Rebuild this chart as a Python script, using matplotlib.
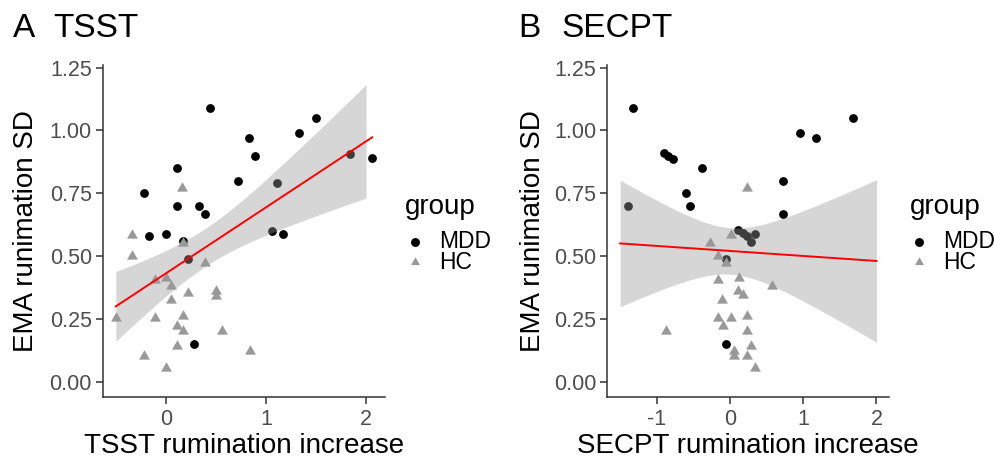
import numpy as np
import matplotlib
matplotlib.use("Agg")
import matplotlib.pyplot as plt
from matplotlib.lines import Line2D

plt.rcParams['font.family'] = ['Liberation Sans', 'DejaVu Sans']
plt.rcParams['axes.unicode_minus'] = False

# ---- data ----
# Panel A: TSST
tsst_mdd_x = [0.445, -0.222, 0.113, 0.113, -0.166, 0.0, 0.329, 0.392, 0.169, 0.219, 0.721,
              0.834, 0.887, 1.113, 1.057, 1.167, 1.333, 1.502, 1.841, 2.061, 0.282]
tsst_mdd_y = [1.090, 0.751, 0.850, 0.700, 0.580, 0.590, 0.700, 0.670, 0.561, 0.491, 0.801,
              0.970, 0.900, 0.790, 0.601, 0.590, 0.990, 1.050, 0.908, 0.891, 0.152]
tsst_hc_x = [0.166, -0.336, -0.336, 0.169, 0.389, -0.110, 0.0, 0.057, 0.057, 0.222, 0.499,
             0.499, -0.499, -0.110, 0.172, 0.113, 0.172, 0.561, 0.113, -0.219, 0.003, 0.837]
tsst_hc_y = [0.773, 0.583, 0.503, 0.554, 0.474, 0.406, 0.413, 0.384, 0.326, 0.356, 0.364,
             0.344, 0.255, 0.255, 0.265, 0.225, 0.204, 0.204, 0.145, 0.105, 0.055, 0.125]

# Panel B: SECPT
secpt_mdd_x = [-1.327, -1.387, -0.896, -0.840, -0.780, -0.382, -0.605, -0.550, -0.050, 0.113,
               0.173, 0.228, 0.287, 0.337, 0.727, 0.727, 0.951, 1.178, 1.678, -0.050]
secpt_mdd_y = [1.090, 0.700, 0.911, 0.898, 0.888, 0.850, 0.751, 0.700, 0.490, 0.605,
               0.592, 0.579, 0.558, 0.590, 0.800, 0.670, 0.990, 0.970, 1.050, 0.152]
secpt_hc_x = [0.232, -0.269, 0.009, -0.164, -0.050, -0.160, 0.119, 0.113, 0.173, 0.569, -0.105,
              -0.160, 0.009, 0.228, -0.100, 0.228, -0.877, 0.291, 0.059, 0.059, 0.228, 0.341]
secpt_hc_y = [0.773, 0.554, 0.583, 0.503, 0.473, 0.406, 0.413, 0.364, 0.346, 0.384, 0.326,
              0.255, 0.255, 0.265, 0.225, 0.204, 0.204, 0.145, 0.125, 0.105, 0.105, 0.055]

secpt_xlim = (-1.5, 2.0)      # scale limits used for panel B (fit drawn over full range)
tsst_band_max = 2.0           # ribbon in panel A stops at 2
y_ticks = [0, 0.25, 0.5, 0.75, 1.0, 1.25]
group_labels = ['MDD', 'HC']

mdd_color = 'black'
hc_color = '#999999'
axis_color = '#333333'
tick_label_color = '#4D4D4D'

W, H = 995, 459
fig = plt.figure(figsize=(W / 100, H / 100), dpi=100)


def px_rect(l, t, r, b):
    return [l / W, 1 - b / H, (r - l) / W, (b - t) / H]


def fx(x):
    return x / W


def fy(y):
    return 1 - y / H


tri = [(-0.866, -0.5), (0.866, -0.5), (0.0, 1.0)]


def ols_band(x, y, xs, t=2.02):
    n = len(x)
    b1, b0 = np.polyfit(x, y, 1)
    resid = y - (b0 + b1 * x)
    s = np.sqrt(np.sum(resid ** 2) / (n - 2))
    xm = x.mean()
    sxx = np.sum((x - xm) ** 2)
    fit = b0 + b1 * xs
    se = s * np.sqrt(1 / n + (xs - xm) ** 2 / sxx)
    return fit, fit - t * se, fit + t * se


def panel(rect, mdd_x, mdd_y, hc_x, hc_y, xticks, xlim, line_rng, band_rng):
    ax = fig.add_axes(rect)
    mx, my = np.array(mdd_x), np.array(mdd_y)
    hx, hy = np.array(hc_x), np.array(hc_y)
    ax.scatter(mx, my, s=40, marker='o', color=mdd_color, linewidths=0, zorder=2)
    ax.scatter(hx, hy, s=82, marker=tri, color=hc_color, linewidths=0, zorder=2)

    allx = np.concatenate([mx, hx])
    ally = np.concatenate([my, hy])
    xs = np.linspace(line_rng[0], line_rng[1], 200)
    fit, _, _ = ols_band(allx, ally, xs)
    xb = np.linspace(band_rng[0], band_rng[1], 200)
    _, lo, hi = ols_band(allx, ally, xb)
    ax.fill_between(xb, lo, hi, color='#999999', alpha=0.4, linewidth=0, zorder=3)
    ax.plot(xs, fit, color='#FF0000', lw=1.4, zorder=4)

    pad = 0.05 * (xlim[1] - xlim[0])
    ax.set_xlim(xlim[0] - pad, xlim[1] + pad)
    ax.set_ylim(-0.06, 1.26)
    ax.set_xticks(xticks)
    ax.set_xticklabels([str(v) for v in xticks])
    ax.set_yticks(y_ticks)
    ax.set_yticklabels([f"{v:.2f}" for v in y_ticks])
    for side in ['top', 'right']:
        ax.spines[side].set_visible(False)
    for side in ['left', 'bottom']:
        ax.spines[side].set_color(axis_color)
        ax.spines[side].set_linewidth(1.1)
    ax.tick_params(axis='both', length=5, width=1.1, color=axis_color,
                   labelcolor=tick_label_color, labelsize=15.5, pad=3)
    return ax


# Panel A
ta_x = tsst_mdd_x + tsst_hc_x
a_lim = (min(ta_x), max(ta_x))
panel(px_rect(103, 65, 385, 397.4), tsst_mdd_x, tsst_mdd_y, tsst_hc_x, tsst_hc_y,
      [0, 1, 2], a_lim, a_lim, (a_lim[0], tsst_band_max))

# Panel B
panel(px_rect(607.3, 65, 889.3, 397.4), secpt_mdd_x, secpt_mdd_y, secpt_hc_x, secpt_hc_y,
      [-1, 0, 1, 2], secpt_xlim, secpt_xlim, secpt_xlim)

# Titles
fig.text(fx(13.3), fy(37.3), 'A', fontsize=24, va='baseline', ha='left')
fig.text(fx(53.3), fy(37.3), 'TSST', fontsize=24, va='baseline', ha='left')
fig.text(fx(518.3), fy(37.3), 'B', fontsize=24, va='baseline', ha='left')
fig.text(fx(561), fy(37.3), 'SECPT', fontsize=24, va='baseline', ha='left')

# Axis titles
fig.text(fx(244), fy(453.3), 'TSST rumination increase', fontsize=20, ha='center', va='baseline')
fig.text(fx(748.3), fy(453.3), 'SECPT rumination increase', fontsize=20, ha='center', va='baseline')
for bx in [33.5, 539.5]:
    fig.text(fx(bx), fy(231.2), 'EMA runimation SD', fontsize=20, rotation=90,
             rotation_mode='anchor', ha='center', va='baseline')

# Legends
for gx, mkx, tx in [(405, 415, 439.3), (910, 919.3, 943.3)]:
    fig.text(fx(gx), fy(214), 'group', fontsize=20, ha='left', va='baseline')
    fig.add_artist(Line2D([fx(mkx)], [fy(241.7)], transform=fig.transFigure, marker='o',
                          markersize=5.4, color=mdd_color, linestyle='none'))
    fig.add_artist(Line2D([fx(mkx)], [fy(261.5)], transform=fig.transFigure, marker=tri,
                          markersize=7.5, color=hc_color, markeredgewidth=0, linestyle='none'))
    fig.text(fx(tx), fy(248.3), group_labels[0], fontsize=16.5, ha='left', va='baseline')
    fig.text(fx(tx), fy(269.3), group_labels[1], fontsize=16.5, ha='left', va='baseline')

fig.savefig('out.png', dpi=100)
